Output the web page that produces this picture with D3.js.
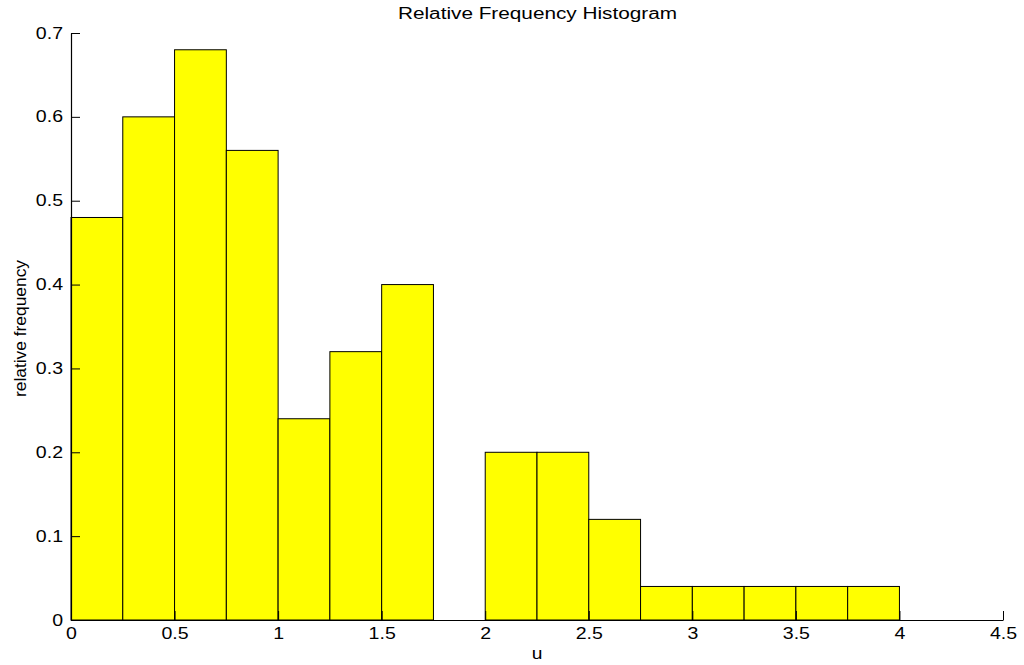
<!DOCTYPE html>
<html>
<head>
<meta charset="utf-8">
<script src="https://cdn.jsdelivr.net/npm/d3@7"></script>
<style>
  body { margin: 0; background: #fff; }
  svg { display: block; font-family: "Liberation Sans", Arial, sans-serif; }
</style>
</head>
<body>
<svg id="chart" width="1024" height="665"></svg>
<script>
// Bin left edges (width 0.25) and relative frequency per bin
const binStarts = [0, 0.25, 0.5, 0.75, 1, 1.25, 1.5, 1.75, 2, 2.25, 2.5, 2.75, 3, 3.25, 3.5, 3.75];
const relFreq   = [0.48, 0.60, 0.68, 0.56, 0.24, 0.32, 0.40, 0, 0.20, 0.20, 0.12, 0.04, 0.04, 0.04, 0.04, 0.04];
const binWidth = 0.25;
const xTicks = [0, 0.5, 1, 1.5, 2, 2.5, 3, 3.5, 4, 4.5];
const yTicks = [0, 0.1, 0.2, 0.3, 0.4, 0.5, 0.6, 0.7];

const svg = d3.select("#chart");
const m = { left: 71, right: 1003, top: 33, bottom: 620 };

const x = d3.scaleLinear().domain([0, 4.5]).range([m.left, m.right]);
const y = d3.scaleLinear().domain([0, 0.7]).range([m.bottom, m.top]);

const bins = binStarts.map((s, i) => ({ x0: s, x1: s + binWidth, v: relFreq[i] }));

svg.append("g").selectAll("rect")
  .data(bins.filter(d => d.v > 0))
  .join("rect")
  .attr("x", d => x(d.x0))
  .attr("width", d => x(d.x1) - x(d.x0))
  .attr("y", d => y(d.v))
  .attr("height", d => y(0) - y(d.v))
  .attr("fill", "#ffff00")
  .attr("stroke", "#000")
  .attr("stroke-width", 1);

// Wide-set lettering: stretch each label along its baseline
function widen(sel, factor, fixed) {
  sel.each(function () {
    const w = fixed || this.getComputedTextLength() * factor;
    d3.select(this).attr("textLength", w).attr("lengthAdjust", "spacingAndGlyphs");
  });
}

// Axes with inward ticks
const xAxis = d3.axisBottom(x).tickValues(xTicks).tickSizeInner(-9).tickSizeOuter(0)
  .tickPadding(8).tickFormat(d3.format("~g"));
const yAxis = d3.axisLeft(y).tickValues(yTicks).tickSizeInner(-9).tickSizeOuter(0)
  .tickPadding(8).tickFormat(d3.format("~g"));

const gx = svg.append("g").attr("transform", `translate(0,${m.bottom})`).call(xAxis);
const gy = svg.append("g").attr("transform", `translate(${m.left},0)`).call(yAxis);

[gx, gy].forEach(g => {
  g.select(".domain").attr("stroke", "#000").attr("stroke-width", 1.2);
  g.selectAll(".tick line").attr("stroke", "#000");
  g.selectAll(".tick text").attr("fill", "#000")
    .attr("font-size", 16)
    .attr("font-family", "'Liberation Sans', Arial, sans-serif");
  widen(g.selectAll(".tick text"), 1.22);
});

svg.append("text")
  .attr("x", 537.5).attr("y", 18.5)
  .attr("text-anchor", "middle")
  .attr("font-size", 16)
  .text("Relative Frequency Histogram")
  .call(widen, 1, 279);

svg.append("text")
  .attr("x", 537).attr("y", 659)
  .attr("text-anchor", "middle")
  .attr("font-size", 16)
  .text("u")
  .call(widen, 1.2);

svg.append("text")
  .attr("transform", `translate(25.5,328.5) rotate(-90)`)
  .attr("text-anchor", "middle")
  .attr("font-size", 17)
  .text("relative frequency")
  .call(widen, 1, 137);
</script>
</body>
</html>
